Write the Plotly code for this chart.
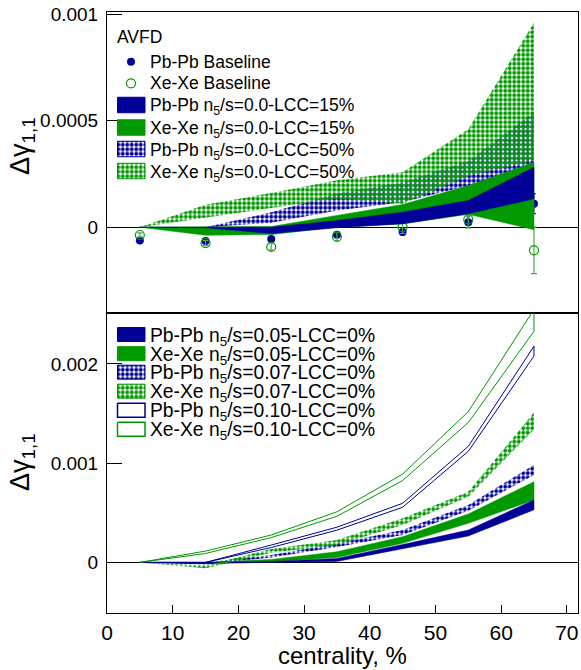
import plotly.graph_objects as go

# ---------------- data ----------------
cent = [5, 15, 25, 35, 45, 55, 65]

# upper panel: baselines
pb_base = [-6.3e-5, -6.5e-5, -5.6e-5, -3.6e-5, -2.3e-5, 2.3e-5, 1.10e-4]
pb_base_err = [0.5e-5, 0.6e-5, 0.8e-5, 1.0e-5, 1.5e-5, 2.5e-5, 4.7e-5]
xe_base = [-3.7e-5, -7.5e-5, -9.3e-5, -4.5e-5, 0.0, 3.6e-5, -1.09e-4]
xe_base_err = [1.0e-5, 1.2e-5, 1.5e-5, 2.0e-5, 3.0e-5, 4.0e-5, 1.09e-4]

# upper panel: n5/s = 0.0 bands (low / high edges)
pb_lcc15_lo = [0, -0.3e-5, -3.0e-5, -0.3e-5, 1.6e-5, 6.3e-5, 1.33e-4]
pb_lcc15_hi = [0, 0.0, 0.0, 3.1e-5, 7.0e-5, 1.25e-4, 2.81e-4]
xe_lcc15_lo = [0, -3.8e-5, -3.5e-5, 0.0, 1.5e-5, 6.0e-5, -1.2e-5]
xe_lcc15_hi = [0, 0.0, 0.3e-5, 5.5e-5, 1.06e-4, 1.95e-4, 3.05e-4]
pb_lcc50_lo = [0, 0.0, 2.0e-5, 7.8e-5, 1.17e-4, 1.95e-4, 3.05e-4]
pb_lcc50_hi = [0, 0.0, 7.0e-5, 1.58e-4, 2.10e-4, 3.10e-4, 5.40e-4]
xe_lcc50_lo = [0, 4.5e-5, 9.0e-5, 1.35e-4, 1.10e-4, 2.40e-4, 3.10e-4]
xe_lcc50_hi = [0, 1.05e-4, 1.60e-4, 2.20e-4, 2.58e-4, 4.60e-4, 9.60e-4]

# lower panel: LCC = 0% bands
pb_n005_lo = [0, -0.1e-4, 0.0, 0.1e-4, 1.41e-4, 2.66e-4, 5.30e-4]
pb_n005_hi = [0, 0.0, 0.1e-4, 0.4e-4, 1.80e-4, 3.26e-4, 6.30e-4]
xe_n005_lo = [0, -0.1e-4, 0.1e-4, 0.5e-4, 1.92e-4, 3.94e-4, 6.30e-4]
xe_n005_hi = [0, 0.0, 0.3e-4, 1.07e-4, 2.59e-4, 4.88e-4, 8.14e-4]
pb_n007_lo = [0, -0.2e-4, 0.5e-4, 1.55e-4, 2.76e-4, 5.21e-4, 8.82e-4]
pb_n007_hi = [0, 0.0, 0.74e-4, 1.90e-4, 3.26e-4, 5.79e-4, 9.83e-4]
xe_n007_lo = [0, -0.6e-4, 0.97e-4, 1.75e-4, 3.77e-4, 6.63e-4, 1.34e-3]
xe_n007_hi = [0, -0.3e-4, 1.35e-4, 2.25e-4, 4.44e-4, 7.13e-4, 1.51e-3]
pb_n010_lo = [0, 0.0, 1.50e-4, 3.25e-4, 5.56e-4, 1.12e-3, 2.08e-3]
pb_n010_hi = [0, 0.0, 1.75e-4, 3.55e-4, 5.96e-4, 1.17e-3, 2.18e-3]
xe_n010_lo = [0, 0.9e-4, 2.50e-4, 4.65e-4, 8.25e-4, 1.41e-3, 2.33e-3]
xe_n010_hi = [0, 1.14e-4, 2.76e-4, 5.10e-4, 8.90e-4, 1.52e-3, 2.55e-3]

# axis ticks
x_ticks = [0, 10, 20, 30, 40, 50, 60, 70]
top_yticks = [0, 0.0005, 0.001]
top_yticktext = ["0", "0.0005", "0.001"]
bot_yticks = [0, 0.001, 0.002]
bot_yticktext = ["0", "0.001", "0.002"]

top_labels = [
    "Pb-Pb n<sub>5</sub>/s=0.0-LCC=15%",
    "Xe-Xe n<sub>5</sub>/s=0.0-LCC=15%",
    "Pb-Pb n<sub>5</sub>/s=0.0-LCC=50%",
    "Xe-Xe n<sub>5</sub>/s=0.0-LCC=50%",
]
bot_labels = [
    "Pb-Pb n<sub>5</sub>/s=0.05-LCC=0%",
    "Xe-Xe n<sub>5</sub>/s=0.05-LCC=0%",
    "Pb-Pb n<sub>5</sub>/s=0.07-LCC=0%",
    "Xe-Xe n<sub>5</sub>/s=0.07-LCC=0%",
    "Pb-Pb n<sub>5</sub>/s=0.10-LCC=0%",
    "Xe-Xe n<sub>5</sub>/s=0.10-LCC=0%",
]

# ---------------- style ----------------
NAVY = "#000099"
GREEN = "#009900"
GREEN_ERR = "#44b044"
FONT = "Liberation Sans, Arial, Helvetica, sans-serif"
W, H = 581, 670
ML, MR, MT, MB = 107, 3, 12, 57
SPLIT = 0.4985
PW, PH = W - ML - MR, H - MT - MB


def px_to_paper(px, py):
    return (px - ML) / PW, (H - MB - py) / PH


def band_xy(xs, lo, hi):
    return list(xs) + list(xs)[::-1], list(hi) + list(lo)[::-1]


def hatch(color):
    return dict(shape=".", fgcolor=color, bgcolor="rgba(0,0,0,0)",
                size=4.5, solidity=0.6, fillmode="replace")


def solid_band(lo, hi, color, xa, ya):
    x, y = band_xy(cent, lo, hi)
    return go.Scatter(x=x, y=y, xaxis=xa, yaxis=ya, mode="lines",
                      fill="toself", fillcolor=color,
                      line=dict(color=color, width=0.5),
                      hoverinfo="skip", showlegend=False)


def hatched_band(lo, hi, color, xa, ya):
    x, y = band_xy(cent, lo, hi)
    return go.Scatter(x=x, y=y, xaxis=xa, yaxis=ya, mode="lines",
                      fill="toself", fillcolor="rgba(0,0,0,0)",
                      fillpattern=hatch(color),
                      line=dict(color=color, width=0),
                      hoverinfo="skip", showlegend=False)


def outline_band(lo, hi, color, xa, ya):
    x, y = band_xy(cent, lo, hi)
    x.append(x[0])
    y.append(y[0])
    return go.Scatter(x=x, y=y, xaxis=xa, yaxis=ya, mode="lines",
                      line=dict(color=color, width=1),
                      hoverinfo="skip", showlegend=False)


fig = go.Figure()

# ---- upper panel: baselines underneath the model bands ----
fig.add_trace(go.Scatter(
    x=cent, y=pb_base, xaxis="x", yaxis="y", mode="markers",
    marker=dict(symbol="circle", size=8, color=NAVY),
    error_y=dict(type="data", array=pb_base_err, color=NAVY, thickness=1, width=2),
    showlegend=False))
fig.add_trace(go.Scatter(
    x=cent, y=xe_base, xaxis="x", yaxis="y", mode="markers",
    marker=dict(symbol="circle-open", size=9, color=GREEN, line=dict(width=1.2, color=GREEN)),
    error_y=dict(type="data", array=xe_base_err, color=GREEN_ERR, thickness=1.2, width=3),
    showlegend=False))

fig.add_trace(solid_band(xe_lcc15_lo, xe_lcc15_hi, GREEN, "x", "y"))
fig.add_trace(solid_band(pb_lcc15_lo, pb_lcc15_hi, NAVY, "x", "y"))
fig.add_trace(hatched_band(pb_lcc50_lo, pb_lcc50_hi, NAVY, "x", "y"))
fig.add_trace(hatched_band(xe_lcc50_lo, xe_lcc50_hi, GREEN, "x", "y"))

# ---- lower panel ----
fig.add_trace(solid_band(xe_n005_lo, xe_n005_hi, GREEN, "x2", "y2"))
fig.add_trace(solid_band(pb_n005_lo, pb_n005_hi, NAVY, "x2", "y2"))
fig.add_trace(hatched_band(pb_n007_lo, pb_n007_hi, NAVY, "x2", "y2"))
fig.add_trace(hatched_band(xe_n007_lo, xe_n007_hi, GREEN, "x2", "y2"))
fig.add_trace(outline_band(pb_n010_lo, pb_n010_hi, NAVY, "x2", "y2"))
fig.add_trace(outline_band(xe_n010_lo, xe_n010_hi, GREEN, "x2", "y2"))

# ---------------- legends (drawn on a pixel-space overlay) ----------------
annotations = []
SW_X0, SW_X1, TXT_X = 117.5, 145.0, 147.5


def swatch(yc, h, kind, color):
    y0, y1 = yc - h / 2, yc + h / 2
    xs = [SW_X0, SW_X1, SW_X1, SW_X0, SW_X0]
    ys = [y0, y0, y1, y1, y0]
    common = dict(x=xs, y=ys, xaxis="x3", yaxis="y3", mode="lines",
                  hoverinfo="skip", showlegend=False)
    if kind == "solid":
        return go.Scatter(fill="toself", fillcolor=color,
                          line=dict(color=color, width=1), **common)
    if kind == "hatch":
        return go.Scatter(fill="toself", fillcolor="rgba(0,0,0,0)",
                          fillpattern=hatch(color),
                          line=dict(color=color, width=1), **common)
    return go.Scatter(line=dict(color=color, width=1.5), **common)


def label(text, px, py, size, **kw):
    x, y = px_to_paper(px, py)
    ann = dict(x=x, y=y, xref="paper", yref="paper", text=text,
               showarrow=False, xanchor="left", yanchor="middle",
               font=dict(family=FONT, size=size, color="black"))
    ann.update(kw)
    annotations.append(ann)


# upper legend
label("AVFD", 115, 37.5, 17.5)
fig.add_trace(go.Scatter(x=[131], y=[61.7], xaxis="x3", yaxis="y3", mode="markers",
                         marker=dict(symbol="circle", size=8, color=NAVY),
                         hoverinfo="skip", showlegend=False))
fig.add_trace(go.Scatter(x=[131], y=[83.3], xaxis="x3", yaxis="y3", mode="markers",
                         marker=dict(symbol="circle-open", size=9, color=GREEN,
                                     line=dict(width=1.2, color=GREEN)),
                         hoverinfo="skip", showlegend=False))
label("Pb-Pb Baseline", TXT_X, 61.7, 17.5)
label("Xe-Xe Baseline", TXT_X, 83.3, 17.5)

top_rows = [105.0, 127.5, 149.0, 171.0]
top_kinds = [("solid", NAVY), ("solid", GREEN), ("hatch", NAVY), ("hatch", GREEN)]
for yc, (kind, col), txt in zip(top_rows, top_kinds, top_labels):
    fig.add_trace(swatch(yc, 15.5, kind, col))
    label(txt, TXT_X, yc + 2, 17.5)

bot_rows = [334.5, 353.7, 372.2, 391.2, 410.3, 429.2]
bot_kinds = [("solid", NAVY), ("solid", GREEN), ("hatch", NAVY), ("hatch", GREEN),
             ("outline", NAVY), ("outline", GREEN)]
for yc, (kind, col), txt in zip(bot_rows, bot_kinds, bot_labels):
    fig.add_trace(swatch(yc, 14, kind, col))
    label(txt, TXT_X, yc + 2, 19.3)

# axis titles
label("Δγ<sub>1,1</sub>", 22, 146, 27, textangle=-90, xanchor="center")
label("Δγ<sub>1,1</sub>", 22, 462, 27, textangle=-90, xanchor="center")
label("centrality, %", 342, 655, 24, xanchor="center")

frame = dict(showline=True, linecolor="black", linewidth=1, mirror=True,
             showgrid=False, zeroline=False)
xtickfont = dict(family=FONT, size=21, color="black")
ytickfont = dict(family=FONT, size=19, color="black")

fig.update_layout(
    width=W, height=H,
    margin=dict(l=ML, r=MR, t=MT, b=MB, pad=0),
    paper_bgcolor="white", plot_bgcolor="rgba(0,0,0,0)",
    showlegend=False,
    font=dict(family=FONT, color="black"),
    xaxis=dict(domain=[0, 1], anchor="y", range=[0, 71.7], ticks="",
               showticklabels=False, **frame),
    yaxis=dict(domain=[SPLIT, 1], anchor="x", range=[-0.000405, 0.00101],
               tickvals=top_yticks, ticktext=top_yticktext, ticks="inside", ticklen=15,
               tickcolor="black", tickfont=ytickfont, ticklabelstandoff=4,
               **{**frame, "zeroline": True}, zerolinecolor="black", zerolinewidth=1),
    xaxis2=dict(domain=[0, 1], anchor="y2", range=[0, 71.7], tickvals=x_ticks,
                ticks="inside", ticklen=8, tickcolor="black", tickfont=xtickfont,
                ticklabelstandoff=1, **frame),
    yaxis2=dict(domain=[0, SPLIT], anchor="x2", range=[-0.00051, 0.00251],
                tickvals=bot_yticks, ticktext=bot_yticktext, ticks="inside", ticklen=15,
                tickcolor="black", tickfont=ytickfont, ticklabelstandoff=4,
                **{**frame, "zeroline": True}, zerolinecolor="black", zerolinewidth=1),
    xaxis3=dict(domain=[0, 1], anchor="y3", range=[ML, W - MR], visible=False,
                fixedrange=True),
    yaxis3=dict(domain=[0, 1], anchor="x3", range=[H - MB, MT], visible=False,
                fixedrange=True),
    annotations=annotations,
)

fig.write_html("out.html")
